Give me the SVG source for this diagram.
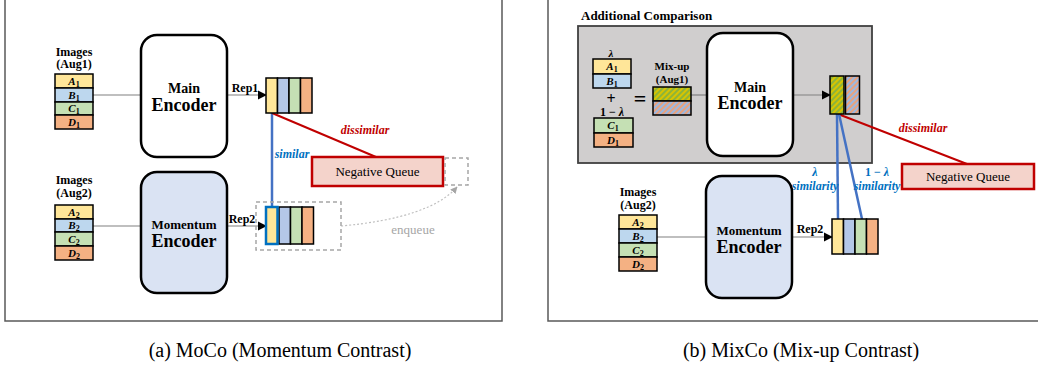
<svg xmlns="http://www.w3.org/2000/svg" width="1038" height="368" viewBox="0 0 1038 368">
<defs>
<style>
.t{font-family:"Liberation Serif","Times New Roman",serif;font-weight:bold;fill:#000;text-anchor:middle}
.m{font-family:"Liberation Serif","Times New Roman",serif;font-weight:bold;font-style:italic;font-size:11px;fill:#000;text-anchor:middle}
.r{font-family:"Liberation Serif","Times New Roman",serif;fill:#000;text-anchor:middle}
.cell{stroke:#000;stroke-width:1.5}
.y{fill:#FFE699}.b{fill:#BDD7EE}.b2{fill:#B4C7E7}.g{fill:#C5E0B4}.o{fill:#F4B183}
.enc{stroke:#000;stroke-width:2.5}
.conn{stroke:#808080;stroke-width:1.2;fill:none}
.blue{stroke:#4472C4;stroke-width:2.5;fill:none}
.red{stroke:#C00000;stroke-width:2;fill:none}
.bl{font-family:"Liberation Serif","Times New Roman",serif;font-weight:bold;font-style:italic;font-size:12px;fill:#0070C0;text-anchor:middle}
.rd{font-family:"Liberation Serif","Times New Roman",serif;font-weight:bold;font-style:italic;font-size:12px;fill:#C00000;text-anchor:middle}
.nq{fill:#F4D3CB;stroke:#C00000;stroke-width:2.5}
.dash{fill:none;stroke:#A6A6A6;stroke-width:1.5;stroke-dasharray:4 3}
.frame{fill:none;stroke:#595959;stroke-width:1.5}
</style>
<marker id="arr" viewBox="0 0 10 10" refX="9" refY="5" markerWidth="9" markerHeight="11" orient="auto" markerUnits="userSpaceOnUse"><path d="M0,0 L10,5 L0,10 Z" fill="#000"/></marker>
<marker id="garr" viewBox="0 0 10 10" refX="9" refY="5" markerWidth="7" markerHeight="7" orient="auto" markerUnits="userSpaceOnUse"><path d="M0,0 L10,5 L0,10 Z" fill="#A6A6A6"/></marker>
<pattern id="hGY" width="4" height="4" patternUnits="userSpaceOnUse" patternTransform="rotate(45)"><rect width="4" height="4" fill="#8DB43A"/><rect width="2" height="4" fill="#D8C400"/></pattern>
<pattern id="hBO" width="4" height="4" patternUnits="userSpaceOnUse" patternTransform="rotate(45)"><rect width="4" height="4" fill="#9DB8E0"/><rect width="2" height="4" fill="#E8A27E"/></pattern>
</defs>

<g id="frames">
<rect class="frame" x="5" y="-5" width="497" height="326"/>
<rect class="frame" x="548" y="-5" width="500" height="326"/>
</g>

<g id="additional-comparison">
<text class="t" x="581" y="20" font-size="13" style="text-anchor:start">Additional Comparison</text>
<rect x="578" y="26" width="294" height="137" fill="#D0CECE" stroke="#404040" stroke-width="1.8"/>
</g>

<g id="connectors">
<line class="conn" x1="93" y1="95" x2="141" y2="95"/>
<line class="conn" x1="227" y1="95" x2="266" y2="95" marker-end="url(#arr)"/>
<line class="conn" x1="93" y1="226" x2="141" y2="226"/>
<line class="conn" x1="227" y1="226" x2="266" y2="226" marker-end="url(#arr)"/>
<line class="blue" x1="272" y1="113" x2="272" y2="207"/>
<line class="red" x1="272" y1="113" x2="376" y2="157"/>
<path d="M341,226 Q430,218 457,187" fill="none" stroke="#BFBFBF" stroke-width="1.2" stroke-dasharray="2 2" marker-end="url(#garr)"/>
<line class="conn" x1="691" y1="95" x2="707" y2="95"/>
<line class="conn" x1="793" y1="95" x2="830" y2="95" marker-end="url(#arr)"/>
<line class="conn" x1="657" y1="237" x2="706" y2="237"/>
<line class="conn" x1="792" y1="237" x2="832" y2="237" marker-end="url(#arr)"/>
<line class="red" x1="838" y1="114" x2="967" y2="164"/>
<line class="blue" x1="837" y1="114" x2="838" y2="219"/>
<line class="blue" x1="839" y1="114" x2="862" y2="219"/>
</g>

<g id="labels-a">
<text class="t" x="245" y="92" font-size="12">Rep1</text>
<text class="t" x="242" y="223" font-size="12">Rep2</text>
<text class="bl" x="292" y="158">similar</text>
<text class="rd" x="365" y="134">dissimilar</text>
<text class="r" x="413" y="234" font-size="13" style="fill:#A6A6A6">enqueue</text>
</g>

<g id="images-aug1">
<text class="t" x="74" y="56" font-size="12">Images</text>
<text class="t" x="74" y="68" font-size="12">(Aug1)</text>
<rect class="cell y" x="55" y="74" width="38" height="14"/>
<rect class="cell b" x="55" y="88" width="38" height="14"/>
<rect class="cell g" x="55" y="102" width="38" height="13"/>
<rect class="cell o" x="55" y="115" width="38" height="14"/>
<text class="m" x="74" y="85">A<tspan font-size="8" font-style="normal" dy="2">1</tspan></text>
<text class="m" x="74" y="99">B<tspan font-size="8" font-style="normal" dy="2">1</tspan></text>
<text class="m" x="74" y="112">C<tspan font-size="8" font-style="normal" dy="2">1</tspan></text>
<text class="m" x="74" y="126">D<tspan font-size="8" font-style="normal" dy="2">1</tspan></text>
</g>

<g id="images-aug2">
<text class="t" x="74" y="184" font-size="12">Images</text>
<text class="t" x="74" y="197" font-size="12">(Aug2)</text>
<rect class="cell y" x="55" y="205" width="38" height="14"/>
<rect class="cell b" x="55" y="219" width="38" height="13"/>
<rect class="cell g" x="55" y="232" width="38" height="14"/>
<rect class="cell o" x="55" y="246" width="38" height="14"/>
<text class="m" x="74" y="216">A<tspan font-size="8" font-style="normal" dy="2">2</tspan></text>
<text class="m" x="74" y="229">B<tspan font-size="8" font-style="normal" dy="2">2</tspan></text>
<text class="m" x="74" y="243">C<tspan font-size="8" font-style="normal" dy="2">2</tspan></text>
<text class="m" x="74" y="257">D<tspan font-size="8" font-style="normal" dy="2">2</tspan></text>
</g>

<g id="main-encoder-a">
<rect class="enc" x="141" y="35" width="86" height="122" rx="16" fill="#fff"/>
<text class="t" x="184" y="93" font-size="14">Main</text>
<text class="t" x="184" y="111" font-size="18">Encoder</text>
</g>

<g id="momentum-encoder-a">
<rect class="enc" x="141" y="172" width="86" height="121" rx="16" fill="#DAE3F3"/>
<text class="t" x="184" y="229" font-size="13">Momentum</text>
<text class="t" x="184" y="247" font-size="18">Encoder</text>
</g>

<g id="rep1-a">
<rect class="cell y" x="266" y="78" width="11.5" height="35"/>
<rect class="cell b2" x="277.5" y="78" width="11.5" height="35"/>
<rect class="cell g" x="289" y="78" width="11.5" height="35"/>
<rect class="cell o" x="300.5" y="78" width="11.5" height="35"/>
</g>

<g id="rep2-a">
<rect class="dash" x="256" y="202" width="85" height="48"/>
<rect class="cell b2" x="279" y="207" width="11.5" height="37"/>
<rect class="cell g" x="290.5" y="207" width="11.5" height="37"/>
<rect class="cell o" x="302" y="207" width="11.5" height="37"/>
<rect x="266" y="207" width="11.5" height="37" fill="#FFE699" stroke="#0070C0" stroke-width="2.5"/>
</g>

<g id="negative-queue-a">
<rect class="nq" x="312" y="157" width="131" height="29"/>
<text class="r" x="377.5" y="176" font-size="13">Negative Queue</text>
<rect class="dash" x="445" y="158" width="23" height="27"/>
</g>

<g id="mix-inputs">
<text class="m" x="611" y="57" font-size="12">λ</text>
<rect class="cell y" x="593" y="59" width="38" height="15"/>
<rect class="cell b" x="593" y="74" width="38" height="14"/>
<text class="m" x="612" y="70">A<tspan font-size="8" font-style="normal" dy="2">1</tspan></text>
<text class="m" x="612" y="85">B<tspan font-size="8" font-style="normal" dy="2">1</tspan></text>
<text class="t" x="611" y="104" font-size="16">+</text>
<text class="t" x="612" y="116" font-size="12">1 − <tspan font-style="italic">λ</tspan></text>
<rect class="cell g" x="594" y="118" width="39" height="15"/>
<rect class="cell o" x="594" y="133" width="39" height="14"/>
<text class="m" x="613" y="129">C<tspan font-size="8" font-style="normal" dy="2">1</tspan></text>
<text class="m" x="613" y="144">D<tspan font-size="8" font-style="normal" dy="2">1</tspan></text>
<text class="t" x="640" y="106" font-size="22">=</text>
</g>

<g id="mixup">
<text class="t" x="672" y="70" font-size="11">Mix-up</text>
<text class="t" x="672" y="83" font-size="11">(Aug1)</text>
<rect class="cell" x="653" y="87" width="38" height="14" fill="url(#hGY)"/>
<rect class="cell" x="653" y="101" width="38" height="14" fill="url(#hBO)"/>
</g>

<g id="main-encoder-b">
<rect class="enc" x="707" y="33" width="86" height="123" rx="16" fill="#fff"/>
<text class="t" x="750" y="92" font-size="14">Main</text>
<text class="t" x="750" y="109" font-size="18">Encoder</text>
</g>

<g id="mixrep-b">
<rect class="cell" x="830" y="76" width="14" height="38" fill="url(#hGY)"/>
<rect class="cell" x="845.5" y="76" width="14" height="38" fill="url(#hBO)"/>
</g>

<g id="negative-queue-b">
<rect class="nq" x="902" y="164" width="132" height="25"/>
<text class="r" x="968" y="181" font-size="13">Negative Queue</text>
</g>

<g id="labels-b">
<text class="rd" x="923" y="132">dissimilar</text>
<text class="bl" x="815" y="176">λ</text>
<text class="bl" x="815" y="190">similarity</text>
<text class="bl" x="877" y="176" style="font-style:normal">1 − <tspan font-style="italic">λ</tspan></text>
<text class="bl" x="877" y="190">similarity</text>
<text class="t" x="810" y="233" font-size="12">Rep2</text>
</g>

<g id="images-aug2-b">
<text class="t" x="638" y="196" font-size="12">Images</text>
<text class="t" x="638" y="209" font-size="12">(Aug2)</text>
<rect class="cell y" x="619" y="215" width="38" height="14"/>
<rect class="cell b" x="619" y="229" width="38" height="14"/>
<rect class="cell g" x="619" y="243" width="38" height="14"/>
<rect class="cell o" x="619" y="257" width="38" height="14"/>
<text class="m" x="638" y="226">A<tspan font-size="8" font-style="normal" dy="2">2</tspan></text>
<text class="m" x="638" y="240">B<tspan font-size="8" font-style="normal" dy="2">2</tspan></text>
<text class="m" x="638" y="254">C<tspan font-size="8" font-style="normal" dy="2">2</tspan></text>
<text class="m" x="638" y="268">D<tspan font-size="8" font-style="normal" dy="2">2</tspan></text>
</g>

<g id="momentum-encoder-b">
<rect class="enc" x="706" y="176" width="86" height="122" rx="16" fill="#DAE3F3"/>
<text class="t" x="749" y="235" font-size="13">Momentum</text>
<text class="t" x="749" y="253" font-size="18">Encoder</text>
</g>

<g id="rep2-b">
<rect class="cell y" x="832" y="219" width="11.5" height="35"/>
<rect class="cell b2" x="843.5" y="219" width="11.5" height="35"/>
<rect class="cell g" x="855" y="219" width="11.5" height="35"/>
<rect class="cell o" x="866.5" y="219" width="11.5" height="35"/>
</g>

<g id="captions">
<text class="r" x="280" y="357" font-size="20">(a) MoCo (Momentum Contrast)</text>
<text class="r" x="801" y="357" font-size="20">(b) MixCo (Mix-up Contrast)</text>
</g>
</svg>
